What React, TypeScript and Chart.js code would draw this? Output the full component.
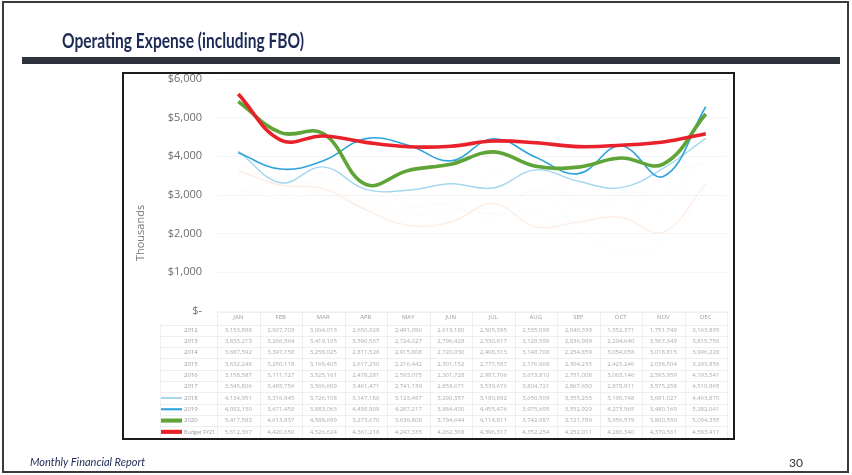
import React, { useEffect, useRef } from "react";
import { Chart, registerables } from "chart.js";

Chart.register(...registerables);

// ---------- data (dollars) ----------
const MONTHS = ["JAN", "FEB", "MAR", "APR", "MAY", "JUN", "JUL", "AUG", "SEP", "OCT", "NOV", "DEC"];
const Y_TICKS = [0, 1000, 2000, 3000, 4000, 5000, 6000];

const ROW_LABELS = ["2012", "2013", "2014", "2015", "2016", "2017", "2018", "2019", "2020", "Budget FY21"];

const FY2012 = [3153898, 2907703, 3004013, 2650929, 2491096, 2613180, 2505395, 2535099, 2040339, 1552371, 1751749, 3163895];
const FY2013 = [3835213, 3266564, 3419165, 3590567, 2724027, 2796428, 2530817, 3129599, 2836989, 2294640, 3567349, 3815750];
const FY2014 = [3687592, 3397158, 3258025, 2811528, 2915808, 2720030, 2408313, 3148708, 2254859, 3054058, 3018815, 3996228];
const FY2015 = [3632248, 3250118, 3169405, 2617250, 2216442, 2301152, 2777587, 2176968, 2304235, 2425246, 2038504, 3293856];
const FY2016 = [3158587, 3111727, 3525161, 2478281, 2593075, 2301728, 2987706, 3673810, 2751008, 3063146, 2593959, 4193541];
const FY2017 = [3545806, 3485756, 3566609, 3461471, 2741139, 2858671, 3539676, 3804721, 2867650, 2878911, 3575258, 4510965];
const FY2018 = [4134951, 3316945, 3726108, 3147186, 3123497, 3290357, 3180892, 3650509, 3355253, 3190748, 3691027, 4463870];
const FY2019 = [4092150, 3671458, 3883063, 4458909, 4287217, 3884430, 4455476, 3975695, 3552929, 4273965, 3480169, 5282041];
const FY2020 = [5417583, 4613837, 4588699, 3273670, 3636808, 3794644, 4114811, 3742987, 3721789, 3956579, 3800550, 5094355];
const BUDGET = [5612367, 4420650, 4526624, 4361218, 4247335, 4262368, 4396317, 4352254, 4252011, 4286340, 4370561, 4583411];

const ROWS = [FY2012, FY2013, FY2014, FY2015, FY2016, FY2017, FY2018, FY2019, FY2020, BUDGET];

const LINE_COLORS = [
  "rgba(190,190,190,0.05)",
  "rgba(230,200,150,0.05)",
  "rgba(180,200,220,0.05)",
  "rgba(248,196,160,0.28)",
  "rgba(210,210,180,0.05)",
  "rgba(240,210,200,0.06)",
  "#a3d7f0",
  "#2fa2db",
  "#5fa437",
  "#e8212a",
];
const LINE_WIDTHS = [1.2, 1.2, 1.2, 1.5, 1.2, 1.2, 1.4, 1.6, 3.6, 3.6];
const SHOW_KEY = [false, false, false, false, false, false, true, true, true, true];

const fmt = (v: number) => v.toLocaleString("en-US");

const slidePlugin = {
  id: "slide",
  beforeDraw(chart: any) {
    const ctx = chart.ctx;
    ctx.save();
    ctx.fillStyle = "#ffffff";
    ctx.fillRect(0, 0, chart.width, chart.height);
    ctx.strokeStyle = "#3a3a3a";
    ctx.lineWidth = 2;
    ctx.strokeRect(3, 2, 845, 470);
    ctx.fillStyle = "#1c2a55";
    ctx.font = "bold 20px Lato";
    ctx.textBaseline = "alphabetic";
    ctx.textAlign = "left";
    ctx.fillText("Operating Expense (including FBO)", 62, 48, 242);
    ctx.fillStyle = "#2c313b";
    ctx.fillRect(22, 57, 818, 7);
    ctx.fillStyle = "#1c2a55";
    ctx.font = "italic 11px Lato";
    ctx.fillText("Monthly Financial Report", 30, 466, 116);
    ctx.fillStyle = "#333";
    ctx.font = "12px Lato";
    ctx.fillText("30", 789, 467);
    ctx.save();
    ctx.translate(141, 233);
    ctx.rotate(-Math.PI / 2);
    ctx.fillStyle = "#7a7a7a";
    ctx.font = "11px 'Open Sans'";
    ctx.textAlign = "center";
    ctx.textBaseline = "middle";
    ctx.fillText("Thousands", 0, 0);
    ctx.restore();
    ctx.restore();
  },
  afterDraw(chart: any) {
    const ctx = chart.ctx;
    const xs = chart.scales.x;
    const colW = xs.width / MONTHS.length;
    const tableLeft = 160;
    const headerTop = 312;
    const rowTop0 = 324.5;
    const rowH = 11.3;
    const tableBottom = rowTop0 + ROWS.length * rowH;
    ctx.save();
    ctx.strokeStyle = "#e8e8e8";
    ctx.lineWidth = 0.7;
    for (let i = 0; i <= MONTHS.length; i++) {
      const x = Math.round(xs.left + i * colW) + 0.5;
      ctx.beginPath();
      ctx.moveTo(x, headerTop);
      ctx.lineTo(x, tableBottom);
      ctx.stroke();
    }
    ctx.beginPath();
    ctx.moveTo(tableLeft + 0.5, rowTop0);
    ctx.lineTo(tableLeft + 0.5, tableBottom);
    ctx.stroke();
    ctx.beginPath();
    ctx.moveTo(xs.left, headerTop + 0.5);
    ctx.lineTo(xs.right, headerTop + 0.5);
    ctx.stroke();
    for (let r = 0; r <= ROWS.length; r++) {
      const y = Math.round(rowTop0 + r * rowH) + 0.5;
      ctx.beginPath();
      ctx.moveTo(tableLeft, y);
      ctx.lineTo(xs.right, y);
      ctx.stroke();
    }
    ctx.textBaseline = "middle";
    ctx.font = "6px 'Open Sans'";
    for (let r = 0; r < ROWS.length; r++) {
      const y = rowTop0 + (r + 0.5) * rowH;
      if (SHOW_KEY[r]) {
        ctx.strokeStyle = LINE_COLORS[r];
        ctx.lineWidth = LINE_WIDTHS[r] + 0.5;
        ctx.beginPath();
        ctx.moveTo(161, y);
        ctx.lineTo(182, y);
        ctx.stroke();
      }
      ctx.fillStyle = "#9a9a9a";
      ctx.textAlign = "left";
      ctx.fillText(ROW_LABELS[r], 184, y, 31);
      ctx.textAlign = "center";
      ctx.fillStyle = "#ababab";
      ROWS[r].forEach((v, c) => {
        ctx.fillText(fmt(v), xs.getPixelForValue(c), y, colW - 6);
      });
    }
    ctx.restore();
  },
};

export default function App() {
  const ref = useRef<HTMLCanvasElement | null>(null);
  useEffect(() => {
    if (!ref.current) return;
    const order = [9, 8, 7, 6, 5, 4, 3, 2, 1, 0];
    const chart = new Chart(ref.current, {
      type: "line",
      data: {
        labels: MONTHS,
        datasets: ROWS.map((row, i) => ({
          label: ROW_LABELS[i],
          data: row.map((v) => v / 1000),
          borderColor: LINE_COLORS[i],
          backgroundColor: LINE_COLORS[i],
          borderWidth: LINE_WIDTHS[i],
          pointRadius: 0,
          tension: 0.4,
          fill: false,
          order: order[i],
        })),
      },
      options: {
        responsive: false,
        animation: false,
        events: [],
        layout: { padding: { left: 130, top: 79, right: 125, bottom: 154 } },
        plugins: { legend: { display: false }, tooltip: { enabled: false } },
        scales: {
          x: {
            type: "category",
            offset: true,
            grid: { display: false, drawTicks: false },
            border: { display: false },
            ticks: { font: { size: 6, family: "'Open Sans'" }, color: "#9a9a9a", padding: 3, maxRotation: 0, autoSkip: false },
            afterFit: (s: any) => { s.height = 10; },
          },
          y: {
            min: Y_TICKS[0],
            max: Y_TICKS[Y_TICKS.length - 1],
            afterBuildTicks: (s: any) => { s.ticks = Y_TICKS.map((v) => ({ value: v })); },
            ticks: {
              padding: 15,
              color: "#6e6e6e",
              font: { size: 11, family: "'Open Sans'" },
              callback: (v: any) => (Number(v) === 0 ? "$-" : "$" + Number(v).toLocaleString("en-US")),
            },
            grid: { drawTicks: false, color: "rgba(0,0,0,0.04)" },
            border: { display: false },
            afterFit: (s: any) => { s.width = 87; },
          },
        },
      },
      plugins: [slidePlugin],
    });
    return () => chart.destroy();
  }, []);
  return (
    <div style={{ position: "absolute", left: 0, top: 0, width: 852, height: 475, background: "#fff" }}>
      <canvas ref={ref} width={852} height={475} style={{ position: "absolute", left: 0, top: 0, width: 852, height: 475, display: "block" }} />
      <div style={{ position: "absolute", left: 122, top: 72, width: 613, height: 368, border: "2px solid #1c1c1c", boxSizing: "border-box", pointerEvents: "none" }} />
    </div>
  );
}
